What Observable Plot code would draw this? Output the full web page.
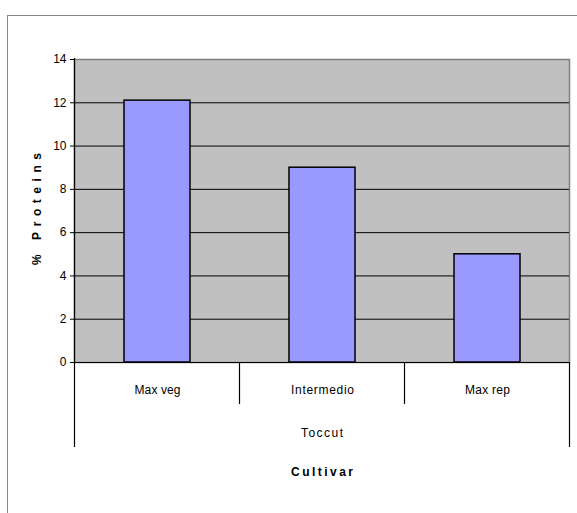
<!DOCTYPE html>
<html>
<head>
<meta charset="utf-8">
<script src="https://cdn.jsdelivr.net/npm/d3@7"></script>
<script src="https://cdn.jsdelivr.net/npm/@observablehq/plot@0.6"></script>
<style>
  html, body { margin: 0; padding: 0; background: #fff; }
  #wrap { position: relative; width: 577px; height: 513px; overflow: hidden; }
  #outer { position: absolute; left: 7px; top: 15px; width: 600px; height: 600px; border-left: 1.5px solid #888; border-top: 1.5px solid #888; box-sizing: border-box; }
  #chart { position: absolute; left: 0; top: 0; }
</style>
</head>
<body>
<div id="wrap"><div id="outer"></div><div id="chart"></div></div>
<script>
const categories = ["Max veg", "Intermedio", "Max rep"];
const values = [12.1, 9.0, 5.0];
const yTicks = [0, 2, 4, 6, 8, 10, 12, 14];
const groupLabel = "Toccut";
const xTitle = "Cultivar";
const yTitle = "% Proteins";

const data = categories.map((c, i) => ({cat: c, value: values[i]}));

const dividers = (index, scales, values_, dimensions) => {
  const x = scales.x;
  const step = x(categories[1]) - x(categories[0]);
  const half = (step - x.bandwidth()) / 2;
  const y0 = dimensions.height - dimensions.marginBottom;
  const g = d3.create("svg:g").attr("stroke", "#000").attr("stroke-width", 1.2);
  const bounds = categories.map(c => x(c) - half);
  bounds.push(x(categories[categories.length - 1]) + x.bandwidth() + half);
  bounds.forEach((b, i) => {
    const outer = i === 0 || i === bounds.length - 1;
    g.append("line")
      .attr("x1", b).attr("x2", b)
      .attr("y1", i === 0 ? dimensions.marginTop - 1 : y0)
      .attr("y2", y0 + (outer ? 85 : 42));
  });
  return g.node();
};

const plot = Plot.plot({
  width: 577,
  height: 513,
  marginLeft: 74,
  marginRight: 8,
  marginTop: 59,
  marginBottom: 151,
  style: {fontFamily: "'Liberation Sans', Arial, sans-serif", fontSize: "12px", background: "transparent", overflow: "visible", color: "#000"},
  x: {domain: categories, paddingInner: 0.6, paddingOuter: 0.3, axis: null},
  y: {domain: [0, 14], axis: null},
  marks: [
    Plot.frame({fill: "#c0c0c0", stroke: "#808080", strokeWidth: 1.5}),
    Plot.ruleY(yTicks.slice(0, -1), {stroke: "#000", strokeWidth: 1}),
    Plot.barY(data, {x: "cat", y: "value", fill: "#9999ff", stroke: "#000", strokeWidth: 1.5}),
    Plot.axisY({ticks: yTicks, tickSize: 4, tickPadding: 4, fontSize: 12, label: null, stroke: "#000"}),
    dividers,
    Plot.text([yTitle], {frameAnchor: "left", textAnchor: "middle", rotate: -90, dx: -37, dy: -2, fontWeight: "bold", fontSize: 12}),
    Plot.text(data, {x: "cat", text: "cat", frameAnchor: "bottom", dy: 31, fontSize: 12}),
    Plot.text([groupLabel], {frameAnchor: "bottom", dy: 74, fontSize: 12}),
    Plot.text([xTitle], {frameAnchor: "bottom", dy: 113, fontSize: 12, fontWeight: "bold"})
  ]
});
const sel = d3.select(plot).selectAll("text");
const widths = {};
widths[yTitle] = 112; widths[xTitle] = 62; widths[groupLabel] = 42;
widths["Max veg"] = 46; widths["Intermedio"] = 63; widths["Max rep"] = 45;
sel.each(function() {
  const w = widths[this.textContent];
  if (w) d3.select(this).attr("textLength", w).attr("lengthAdjust", "spacing");
});
document.getElementById("chart").appendChild(plot);
</script>
</body>
</html>
